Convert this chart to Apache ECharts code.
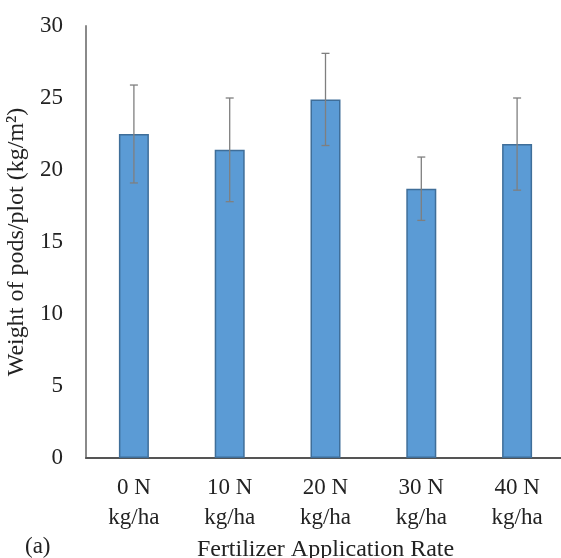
<!DOCTYPE html>
<html>
<head>
<meta charset="utf-8">
<script src="https://cdn.jsdelivr.net/npm/echarts@6/dist/echarts.min.js"></script>
<style>html,body{margin:0;padding:0;background:#fff}#c{width:561px;height:558px}</style>
</head>
<body>
<div id="c"></div>
<script>
const categories = ['0 N\nkg/ha', '10 N\nkg/ha', '20 N\nkg/ha', '30 N\nkg/ha', '40 N\nkg/ha'];
const values = [22.5, 21.4, 24.9, 18.7, 21.8];
const errors = [3.4, 3.6, 3.2, 2.2, 3.2];
const yTicks = [0, 5, 10, 15, 20, 25, 30];

const font = '"Liberation Serif", "Times New Roman", serif';
const chart = echarts.init(document.getElementById('c'));
chart.setOption({
  animation: false,
  backgroundColor: '#fff',
  grid: { left: 86, top: 26, bottom: 100, right: -4, outerBoundsMode: 'none', containLabel: false },
  xAxis: {
    type: 'category',
    data: categories,
    name: 'Fertilizer Application Rate',
    nameLocation: 'middle',
    nameGap: 75,
    nameTextStyle: { fontFamily: font, fontSize: 24, color: '#222' },
    axisLine: { lineStyle: { color: '#555', width: 2 } },
    axisTick: { show: false },
    axisLabel: { fontFamily: font, fontSize: 23, color: '#222', lineHeight: 30, margin: 15 }
  },
  yAxis: {
    type: 'value',
    min: yTicks[0], max: yTicks[yTicks.length - 1], interval: 5,
    name: 'Weight of pods/plot (kg/m²)',
    nameLocation: 'middle',
    nameGap: 49,
    nameTextStyle: { fontFamily: font, fontSize: 24, color: '#222' },
    axisLine: { show: true, lineStyle: { color: '#8a8a8a', width: 2 } },
    axisTick: { show: false },
    splitLine: { show: false },
    axisLabel: { fontFamily: font, fontSize: 23, color: '#222', margin: 23 }
  },
  graphic: [{
    type: 'text', left: 25, top: 535,
    style: { text: '(a)', font: '23px ' + font, fill: '#222' }
  }],
  series: [{
    type: 'bar',
    data: values,
    barWidth: 30,
    itemStyle: { color: '#5B9BD5', borderColor: '#3F6E99', borderWidth: 1.5 },
    z: 2
  }, {
    type: 'custom',
    z: 5,
    data: values.map((v, i) => [i, v - errors[i], v + errors[i]]),
    renderItem: function (params, api) {
      const lo = api.coord([api.value(0), api.value(1)]);
      const hi = api.coord([api.value(0), api.value(2)]);
      const w = 4;
      const st = { stroke: '#7f7f7f', lineWidth: 1.3 };
      return {
        type: 'group',
        children: [
          { type: 'line', shape: { x1: lo[0], y1: lo[1], x2: hi[0], y2: hi[1] }, style: st },
          { type: 'line', shape: { x1: lo[0] - w, y1: lo[1], x2: lo[0] + w, y2: lo[1] }, style: st },
          { type: 'line', shape: { x1: hi[0] - w, y1: hi[1], x2: hi[0] + w, y2: hi[1] }, style: st }
        ]
      };
    }
  }]
});
</script>
</body>
</html>
